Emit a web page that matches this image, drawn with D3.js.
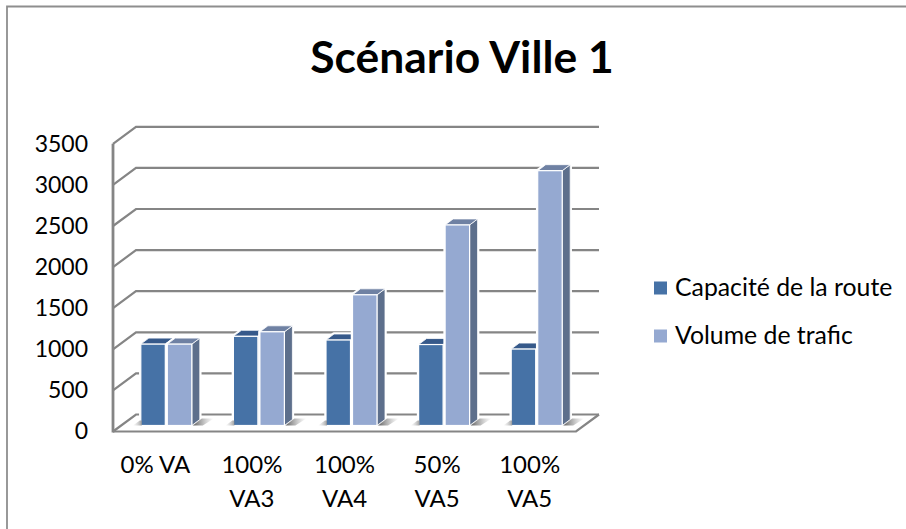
<!DOCTYPE html>
<html>
<head>
<meta charset="utf-8">
<script src="https://cdn.jsdelivr.net/npm/d3@7"></script>
<style>
  body { margin: 0; background: #fff; }
  text { font-family: Lato, "Open Sans", sans-serif; fill: #000; }
</style>
</head>
<body>
<div id="chart"></div>
<script>
// values
const categories = ["0% VA", "100%\nVA3", "100%\nVA4", "50%\nVA5", "100%\nVA5"];
const seriesNames = ["Capacité de la route", "Volume de trafic"];
const capacite = [990, 1085, 1040, 985, 930];
const volume = [990, 1140, 1590, 2440, 3100];
const yTicks = [0, 500, 1000, 1500, 2000, 2500, 3000, 3500];

const frontColors = ["#4672a6", "#95a9d1"];
const topColors = ["#36598a", "#6f81a3"];
const sideColor = "#5d6f8c";
const gridColor = "#858585";

const width = 906, height = 529;
// depth of the fake 3d box, and where the bars sit inside it
const depthX = 23, depthY = 17;
const barX = 8, barY = 6, barDepthX = 8, barDepthY = 6;

const svg = d3.select("#chart").append("svg")
  .attr("width", width)
  .attr("height", height)
  .style("display", "block");

// shadow fade on the floor
const defs = svg.append("defs");
const shadowGrad = defs.append("linearGradient").attr("id", "shadow");
shadowGrad.append("stop").attr("offset", "0%").attr("stop-color", "#555").attr("stop-opacity", 0.95);
shadowGrad.append("stop").attr("offset", "100%").attr("stop-color", "#999").attr("stop-opacity", 0);
const shadowLeft = defs.append("linearGradient").attr("id", "shadowLeft");
shadowLeft.append("stop").attr("offset", "0%").attr("stop-color", "#bbb").attr("stop-opacity", 0);
shadowLeft.append("stop").attr("offset", "100%").attr("stop-color", "#888").attr("stop-opacity", 0.8);

// outer chart border, only top and left show
svg.append("path")
  .attr("d", `M7,${height} V6.5 H${width}`)
  .attr("fill", "none")
  .attr("stroke", "#8e8e8e")
  .attr("stroke-width", 1.8);

// scales
const x = d3.scaleBand().domain(categories).range([113, 576]);
const groupWidth = 53;
const xInner = d3.scaleBand().domain([0, 1]).range([0, groupWidth]);
const y = d3.scaleLinear().domain([0, 3500]).range([431.5, 143.8]);

// back wall + side wall grid lines
const grid = svg.append("g").attr("fill", "none").attr("stroke", gridColor).attr("stroke-width", 2.2);
grid.selectAll(".grid")
  .data(yTicks)
  .enter().append("path")
  .attr("class", "grid")
  .attr("d", d => `M113,${y(d)} L136,${y(d) - depthY} H599`);

// floor
grid.append("path")
  .attr("d", `M113,${y(0)} H576 L599,${y(0) - depthY}`);
// left wall
grid.append("path")
  .attr("d", `M113,${y(3500)} V${y(0) + 1}`)
  .attr("stroke-width", 2.8);

// bars
const groups = svg.selectAll(".group")
  .data(categories)
  .enter().append("g")
  .attr("class", "group")
  .attr("transform", d => `translate(${x(d) + (x.step() - groupWidth) / 2 + barX},0)`);

const baseY = y(0) - barY;
const barW = xInner.bandwidth() - 2;

const barData = categories.map((c, i) => [capacite[i], volume[i]]);

const bars = groups.selectAll(".bar")
  .data((d, i) => barData[i].map((v, s) => ({ v, s })))
  .enter().append("g")
  .attr("class", "bar")
  .attr("transform", d => `translate(${xInner(d.s)},0)`);

const barTop = d => y(d.v) - barY;

// white halo that cuts the grid lines near the bars
bars.append("path")
  .attr("d", d => `M0,${baseY} V${barTop(d)} L${barDepthX},${barTop(d) - barDepthY} H${barW + barDepthX} V${baseY - barDepthY} L${barW},${baseY} Z`)
  .attr("fill", "#fff")
  .attr("stroke", "#fff")
  .attr("stroke-width", 3.5)
  .attr("stroke-linejoin", "round");

// floor shadows go over the halo
groups.append("path")
  .attr("d", `M${groupWidth - 1},${baseY} L${groupWidth + 8},${baseY - 7} H${groupWidth + 20} L${groupWidth + 9},${baseY} Z`)
  .attr("fill", "url(#shadow)");
groups.append("path")
  .attr("d", `M-8,${baseY} L-1,${baseY - 5} H1 V${baseY} Z`)
  .attr("fill", "url(#shadowLeft)");

// side
bars.append("path")
  .attr("d", d => `M${barW},${barTop(d)} L${barW + barDepthX},${barTop(d) - barDepthY} V${baseY - barDepthY} L${barW},${baseY} Z`)
  .attr("fill", sideColor)
  .attr("stroke", "#fff")
  .attr("stroke-width", 0.8);

// top
bars.append("path")
  .attr("d", d => `M0,${barTop(d)} L${barDepthX},${barTop(d) - barDepthY} H${barW + barDepthX} L${barW},${barTop(d)} Z`)
  .attr("fill", d => topColors[d.s])
  .attr("stroke", "#fff")
  .attr("stroke-width", 0.8);

// front
bars.append("rect")
  .attr("x", 0)
  .attr("y", barTop)
  .attr("width", barW)
  .attr("height", d => baseY - barTop(d))
  .attr("fill", d => frontColors[d.s])
  .attr("stroke", "#fff")
  .attr("stroke-width", 1.2);

// y axis labels
const yAxis = svg.append("g")
  .attr("transform", "translate(88,0)")
  .call(d3.axisLeft(y).tickValues(yTicks).tickSize(0).tickPadding(0).tickFormat(d3.format("d")));
yAxis.select(".domain").remove();
yAxis.selectAll("text").style("font-size", "23px").style("fill", "#000");

// x axis labels, two lines where the label has a break
const xAxis = svg.append("g")
  .attr("transform", "translate(-4,450)")
  .call(d3.axisBottom(x).tickSize(0).tickPadding(0));
xAxis.select(".domain").remove();
xAxis.selectAll("text").each(function (d) {
  const t = d3.select(this).text("").attr("y", 0).attr("dy", null).style("font-size", "24px").style("fill", "#000");
  d.split("\n").forEach((line, i) => {
    t.append("tspan").attr("x", 4 * (d.includes("\n") ? 1 : 0)).attr("y", 23 + i * 34).text(line);
  });
});

// title
svg.append("text")
  .attr("x", 462)
  .attr("y", 73)
  .attr("text-anchor", "middle")
  .style("font-size", "44.4px")
  .style("font-weight", 700)
  .text("Scénario Ville 1");

// legend
const legendY = d3.scalePoint().domain(seriesNames).range([288, 336]);
const legend = svg.selectAll(".legend")
  .data(seriesNames)
  .enter().append("g")
  .attr("class", "legend")
  .attr("transform", d => `translate(654,${legendY(d)})`);
legend.append("rect")
  .attr("y", -6.5)
  .attr("width", 13)
  .attr("height", 13)
  .attr("fill", (d, i) => frontColors[i]);
legend.append("text")
  .attr("x", 21)
  .attr("y", 8)
  .style("font-size", "24.8px")
  .text(d => d);
</script>
</body>
</html>
